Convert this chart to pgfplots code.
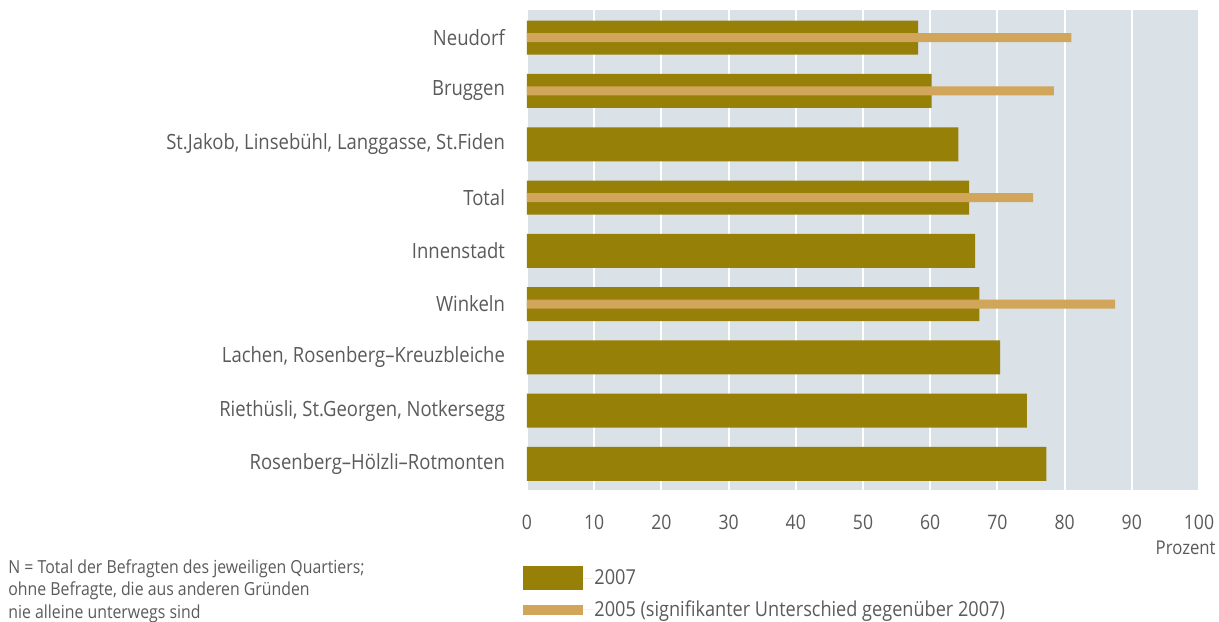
\documentclass[border=0pt]{standalone}
\usepackage{fontspec}
\setmainfont{Open Sans}[FakeStretch=0.88]
\usepackage{pgfplots}
\pgfplotsset{compat=1.18}
\definecolor{bar07}{RGB}{150,128,8}
\definecolor{bar05}{RGB}{209,166,90}
\definecolor{bgcol}{RGB}{218,225,231}
\definecolor{txt}{RGB}{90,90,90}

\begin{document}
\begin{tikzpicture}[x=1pt,y=1pt]
\useasboundingbox (-263.5,-65.5) rectangle (346,245);
\begin{axis}[
  at={(0,0)}, anchor=south west, scale only axis,
  width=336pt, height=240pt,
  xmin=0, xmax=100, ymin=-0.52, ymax=8.49, y dir=reverse,
  axis background/.style={fill=bgcol},
  axis line style={draw=none},
  xtick={0,10,...,100}, ytick={0,...,8},
  yticklabels={Neudorf, Bruggen, {St.Jakob, Linsebühl, Langgasse, St.Fiden}, Total, Innenstadt, Winkeln, {Lachen, Rosenberg–Kreuzbleiche}, {Riethüsli, St.Georgen, Notkersegg}, Rosenberg–Hölzli–Rotmonten},
  major tick length=0pt,
  xmajorgrids, major grid style={white, line width=1pt},
  /pgf/number format/assume math mode=true,
  tick label style={text=txt},
  xticklabel style={yshift=-9pt, font=\fontsize{10}{12}\selectfont},
  yticklabel style={xshift=-7.5pt, font=\fontsize{10.5}{12}\selectfont},
  legend style={at={(rel axis cs:0,0)}, anchor=north west, xshift=-2pt, yshift=-38pt,
    draw=none, fill=none, inner sep=0pt, row sep=5pt,
    font=\fontsize{10.3}{12}\selectfont, text=txt,
    nodes={inner sep=0pt, anchor=west}},
  legend cell align=left,
  clip=false,
]
\addplot[xbar, bar width=17pt, bar shift=0pt, fill=bar07, draw=none,
  legend image code/.code={\fill[bar07] (0pt,-6pt) rectangle (30pt,6pt);
    \path (0pt,0pt) -- (35.5pt,0pt);}]
  coordinates {(58.2,0) (60.2,1) (64.2,2) (65.8,3) (66.7,4) (67.3,5) (70.4,6) (74.4,7) (77.3,8)};
\addlegendentry{2007}
\addplot[xbar, bar width=4.5pt, bar shift=0pt, fill=bar05, draw=none,
  legend image code/.code={\fill[bar05] (0pt,-2.5pt) rectangle (30pt,2.5pt);
    \path (0pt,0pt) -- (35.5pt,0pt);}]
  coordinates {(81.0,0) (78.4,1) (75.3,3) (87.5,5)};
\addlegendentry{2005 (signifikanter Unterschied gegenüber 2007)}
\node[anchor=north east, inner sep=0pt, text=txt, font=\fontsize{9.5}{11}\selectfont]
  at ([xshift=8.5pt, yshift=-25.5pt]rel axis cs:1,0) {Prozent};
\end{axis}
\node[anchor=north west, inner sep=0pt, align=left, text=txt,
  font=\fontsize{9}{11.25}\selectfont] at (-259.5,-34.5)
  {N = Total der Befragten des jeweiligen Quartiers;\\
   ohne Befragte, die aus anderen Gründen\\
   nie alleine unterwegs sind};
\end{tikzpicture}
\end{document}
